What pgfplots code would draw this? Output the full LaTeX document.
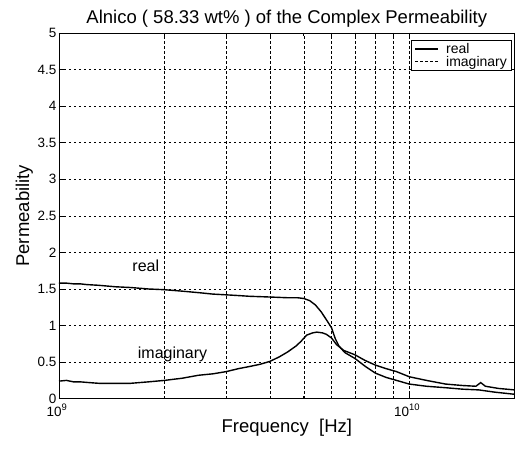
\documentclass[border=0pt]{standalone}
\usepackage{pgfplots}
\pgfplotsset{compat=1.18}
\usepackage{fontspec}
\setmainfont{Liberation Sans}
\usetikzlibrary{calc}
\newcommand{\lgf}{\fontsize{14}{15}\selectfont}
\begin{document}
\begin{tikzpicture}
\begin{axis}[
  scale only axis,
  width=456pt, height=366pt,
  xmode=log,
  xmin=1e9, xmax=2e10,
  ymin=0, ymax=5,
  ytick={0,0.5,...,5},
  yticklabels={0,0.5,1,1.5,2,2.5,3,3.5,4,4.5,5},
  xtick={1e9,1e10},
  xticklabels={10\textsuperscript{9},10\textsuperscript{10}},
  minor xtick={2e9,3e9,4e9,5e9,6e9,7e9,8e9,9e9,2e10},
  xmajorgrids, xminorgrids, ymajorgrids,
  grid style={black, line width=0.5pt, dash pattern=on 2.5pt off 2.5pt},
  minor grid style={black, line width=0.5pt, dash pattern=on 2.5pt off 2.5pt},
  tick align=inside,
  major tick length=5pt, minor tick length=3pt,
  tick style={black, line width=0.6pt},
  axis line style={line width=0.8pt},
  /pgf/number format/assume math mode=true,
  tick label style={font=\fontsize{13.5}{15}\selectfont},
  yticklabel style={xshift=1pt},
  xticklabel style={yshift=-2pt, xshift=-2pt},
  title={Alnico ( 58.33 wt\% ) of the Complex Permeability},
  title style={font=\fontsize{18.5}{20}\selectfont, yshift=-4pt},
  xlabel={Frequency\ \ [Hz]},
  ylabel={Permeability},
  label style={font=\fontsize{18.5}{20}\selectfont},
  xlabel style={yshift=4pt},
  ylabel style={yshift=-2pt},
  legend style={at={(1,1)}, anchor=north east, xshift=-3pt, yshift=-7pt,
    draw=black, line width=0.6pt, nodes={font=\lgf, inner sep=1.5pt},
    inner xsep=3pt, inner ysep=1.5pt, row sep=-2pt, cells={anchor=west}},
  legend image code/.code={\draw[#1] (3pt,0pt) -- (26pt,0pt); \path (32pt,0pt);},
  legend cell align=left,
]
\addplot[black, line width=1.4pt] coordinates {
(1e9,1.58)(1.05e9,1.58)(1.1e9,1.57)(1.15e9,1.57)(1.2e9,1.56)(1.3e9,1.55)(1.45e9,1.53)(1.6e9,1.52)(1.8e9,1.50)(2e9,1.49)(2.25e9,1.47)(2.5e9,1.45)(2.75e9,1.43)(3e9,1.42)(3.25e9,1.41)(3.5e9,1.40)(4e9,1.39)(4.5e9,1.38)(4.8e9,1.38)(5.0e9,1.37)(5.2e9,1.34)(5.4e9,1.28)(5.6e9,1.19)(5.8e9,1.08)(6.0e9,0.97)(6.15e9,0.82)(6.3e9,0.72)(6.55e9,0.63)(7.0e9,0.55)(7.5e9,0.44)(8.0e9,0.35)(8.6e9,0.29)(9.2e9,0.25)(1.0e10,0.20)(1.12e10,0.17)(1.27e10,0.15)(1.42e10,0.13)(1.58e10,0.12)(1.75e10,0.09)(2e10,0.06)
};
\addlegendentry{\lgf real}
\addplot[black, line width=1.4pt, forget plot] coordinates {
(1e9,0.24)(1.05e9,0.25)(1.1e9,0.23)(1.15e9,0.23)(1.22e9,0.22)(1.3e9,0.21)(1.45e9,0.21)(1.6e9,0.21)(1.8e9,0.23)(2e9,0.25)(2.25e9,0.28)(2.5e9,0.32)(2.75e9,0.34)(3e9,0.37)(3.25e9,0.41)(3.5e9,0.44)(3.75e9,0.47)(4e9,0.51)(4.25e9,0.57)(4.5e9,0.64)(4.75e9,0.72)(4.9e9,0.78)(5.1e9,0.87)(5.3e9,0.90)(5.45e9,0.91)(5.65e9,0.90)(5.8e9,0.88)(6.0e9,0.83)(6.2e9,0.74)(6.5e9,0.66)(7.0e9,0.60)(7.5e9,0.52)(8.0e9,0.46)(8.6e9,0.41)(9.2e9,0.37)(1.0e10,0.30)(1.12e10,0.25)(1.27e10,0.20)(1.42e10,0.18)(1.55e10,0.17)(1.6e10,0.22)(1.65e10,0.17)(1.8e10,0.14)(2e10,0.12)
};
\addlegendimage{black, line width=0.8pt, dash pattern=on 3pt off 2pt}
\addlegendentry{\lgf imaginary\hspace{4pt}}
\node[font=\fontsize{16}{18}\selectfont] at (axis cs:1.77e9,1.82) {real};
\node[font=\fontsize{16}{18}\selectfont] at (axis cs:2.11e9,0.60) {imaginary};
\end{axis}
\useasboundingbox ($(current axis.south west)+(-59pt,-53pt)$) rectangle ($(current axis.north east)+(0pt,33pt)$);
\end{tikzpicture}
\end{document}
